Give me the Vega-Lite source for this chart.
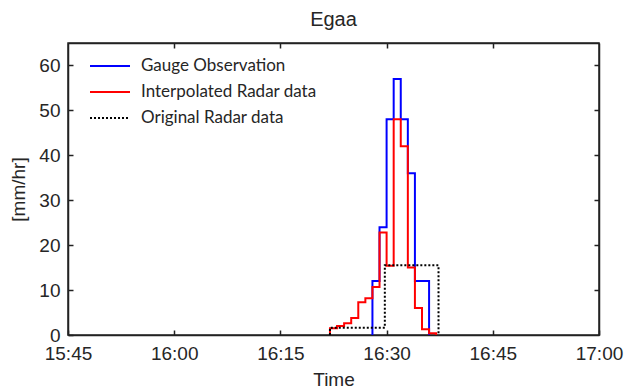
{
  "$schema": "https://vega.github.io/schema/vega-lite/v6.json",
  "autosize": {"type": "none"},
  "padding": {"left": 68, "top": 43, "right": 26, "bottom": 56},
  "width": 531,
  "height": 292,
  "background": "white",
  "title": {"text": "Egaa", "font": "Liberation Sans", "fontSize": 20, "fontWeight": "normal", "color": "#262626", "offset": 12},
  "config": {
    "view": {"stroke": "#222222", "strokeWidth": 1.5},
    "axis": {"grid": false, "labelFont": "Liberation Sans", "labelFontSize": 19, "labelColor": "#262626", "titleFont": "Liberation Sans", "titleFontSize": 19, "titleFontWeight": "normal", "titleColor": "#262626", "domainColor": "#222222", "domainWidth": 1.5, "tickColor": "#222222", "tickWidth": 1.5}
  },
  "data": {"values": [
    {"series": "Gauge Observation", "t": "2020-01-01T16:28:00", "v": 0, "i": 1},
    {"series": "Gauge Observation", "t": "2020-01-01T16:28:00", "v": 12, "i": 2},
    {"series": "Gauge Observation", "t": "2020-01-01T16:29:00", "v": 24, "i": 3},
    {"series": "Gauge Observation", "t": "2020-01-01T16:30:00", "v": 48, "i": 4},
    {"series": "Gauge Observation", "t": "2020-01-01T16:31:00", "v": 57, "i": 5},
    {"series": "Gauge Observation", "t": "2020-01-01T16:32:00", "v": 48, "i": 6},
    {"series": "Gauge Observation", "t": "2020-01-01T16:33:00", "v": 36, "i": 7},
    {"series": "Gauge Observation", "t": "2020-01-01T16:34:00", "v": 12, "i": 8},
    {"series": "Gauge Observation", "t": "2020-01-01T16:36:00", "v": 0, "i": 9},
    {"series": "Interpolated Radar data", "t": "2020-01-01T16:22:00", "v": 0, "i": 1},
    {"series": "Interpolated Radar data", "t": "2020-01-01T16:22:00", "v": 1.5, "i": 2},
    {"series": "Interpolated Radar data", "t": "2020-01-01T16:23:00", "v": 2.0, "i": 3},
    {"series": "Interpolated Radar data", "t": "2020-01-01T16:24:00", "v": 2.6, "i": 4},
    {"series": "Interpolated Radar data", "t": "2020-01-01T16:25:00", "v": 3.8, "i": 5},
    {"series": "Interpolated Radar data", "t": "2020-01-01T16:26:00", "v": 7.3, "i": 6},
    {"series": "Interpolated Radar data", "t": "2020-01-01T16:27:00", "v": 8.2, "i": 7},
    {"series": "Interpolated Radar data", "t": "2020-01-01T16:28:00", "v": 10.7, "i": 8},
    {"series": "Interpolated Radar data", "t": "2020-01-01T16:29:00", "v": 22.8, "i": 9},
    {"series": "Interpolated Radar data", "t": "2020-01-01T16:30:00", "v": 15.4, "i": 10},
    {"series": "Interpolated Radar data", "t": "2020-01-01T16:31:00", "v": 48, "i": 11},
    {"series": "Interpolated Radar data", "t": "2020-01-01T16:32:00", "v": 42, "i": 12},
    {"series": "Interpolated Radar data", "t": "2020-01-01T16:33:00", "v": 15, "i": 13},
    {"series": "Interpolated Radar data", "t": "2020-01-01T16:34:00", "v": 6.0, "i": 14},
    {"series": "Interpolated Radar data", "t": "2020-01-01T16:35:00", "v": 1.3, "i": 15},
    {"series": "Interpolated Radar data", "t": "2020-01-01T16:36:00", "v": 0.4, "i": 16},
    {"series": "Interpolated Radar data", "t": "2020-01-01T16:37:00", "v": 0, "i": 17},
    {"series": "Original Radar data", "t": "2020-01-01T16:22:00", "v": 0, "i": 1},
    {"series": "Original Radar data", "t": "2020-01-01T16:22:00", "v": 1.6, "i": 2},
    {"series": "Original Radar data", "t": "2020-01-01T16:29:45", "v": 15.5, "i": 3},
    {"series": "Original Radar data", "t": "2020-01-01T16:37:20", "v": 0, "i": 4}
  ]},
  "resolve": {"axis": {"x": "independent", "y": "independent"}},
  "layer": [
    {
      "mark": {"type": "line", "interpolate": "step-after", "strokeWidth": 2},
      "encoding": {
        "x": {"field": "t", "type": "temporal",
          "scale": {"domain": [{"year": 2020, "month": 1, "date": 1, "hours": 15, "minutes": 45}, {"year": 2020, "month": 1, "date": 1, "hours": 17, "minutes": 0}]},
          "axis": {"orient": "bottom", "title": "Time", "format": "%H:%M", "tickSize": -5, "labelPadding": 14, "titlePadding": 7, "labelFlush": false, "labelOverlap": false,
            "values": [{"year": 2020, "month": 1, "date": 1, "hours": 15, "minutes": 45}, {"year": 2020, "month": 1, "date": 1, "hours": 16, "minutes": 0}, {"year": 2020, "month": 1, "date": 1, "hours": 16, "minutes": 15}, {"year": 2020, "month": 1, "date": 1, "hours": 16, "minutes": 30}, {"year": 2020, "month": 1, "date": 1, "hours": 16, "minutes": 45}, {"year": 2020, "month": 1, "date": 1, "hours": 17, "minutes": 0}]}},
        "y": {"field": "v", "type": "quantitative", "scale": {"domain": [0, 65], "nice": false},
          "axis": {"orient": "left", "title": "[mm/hr]", "values": [0, 10, 20, 30, 40, 50, 60], "tickSize": -5, "labelPadding": 13, "titlePadding": 10, "labelFlush": false}},
        "color": {"field": "series", "type": "nominal",
          "scale": {"domain": ["Gauge Observation", "Interpolated Radar data", "Original Radar data"], "range": ["#0000ff", "#ff0000", "#000000"]},
          "legend": {"title": null, "orient": "none", "legendX": 31, "legendY": 12, "padding": 0,
            "symbolType": "M-2,0H2", "symbolSize": 400, "symbolStrokeWidth": 2, "rowPadding": 7, "labelOffset": 20, "labelLimit": 400,
            "labelFont": "Lato", "labelFontSize": 17, "labelColor": "#262626", "fillColor": null, "strokeColor": null}},
        "strokeDash": {"field": "series", "type": "nominal",
          "scale": {"domain": ["Gauge Observation", "Interpolated Radar data", "Original Radar data"], "range": [[1, 0], [1, 0], [2, 2]]},
          "legend": {"title": null, "orient": "none", "legendX": 31, "legendY": 12, "padding": 0,
            "symbolType": "M-2,0H2", "symbolSize": 400, "symbolStrokeWidth": 2, "rowPadding": 7, "labelOffset": 20, "labelLimit": 400,
            "labelFont": "Lato", "labelFontSize": 17, "labelColor": "#262626"}},
        "order": {"field": "i", "type": "quantitative"}
      }
    },
    {
      "mark": {"type": "line", "opacity": 0},
      "encoding": {
        "x": {"field": "t", "type": "temporal",
          "axis": {"orient": "top", "title": null, "labels": false, "tickSize": -5,
            "values": [{"year": 2020, "month": 1, "date": 1, "hours": 16, "minutes": 0}, {"year": 2020, "month": 1, "date": 1, "hours": 16, "minutes": 15}, {"year": 2020, "month": 1, "date": 1, "hours": 16, "minutes": 30}, {"year": 2020, "month": 1, "date": 1, "hours": 16, "minutes": 45}]}},
        "y": {"field": "v", "type": "quantitative",
          "axis": {"orient": "right", "title": null, "labels": false, "tickSize": -5, "values": [10, 20, 30, 40, 50, 60]}}
      }
    }
  ]
}
